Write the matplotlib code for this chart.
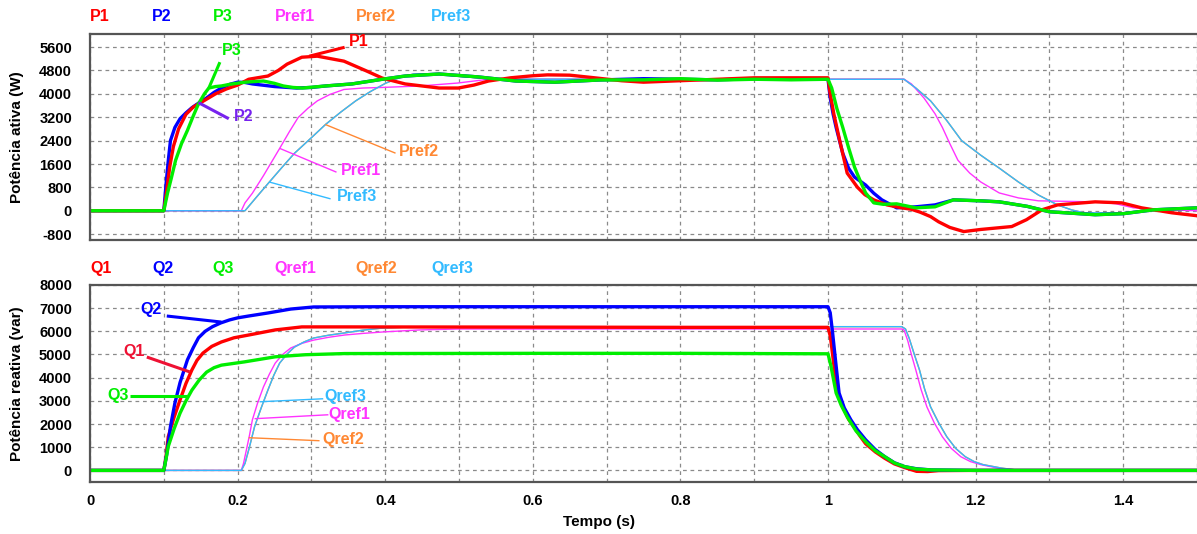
import numpy as np
import matplotlib
matplotlib.use("Agg")
import matplotlib.pyplot as plt

plt.rcParams['font.family'] = ['Liberation Sans', 'DejaVu Sans']
plt.rcParams['font.weight'] = 'bold'
plt.rcParams['axes.unicode_minus'] = False

# --- cores ---
C_1 = '#ff0000'
C_2 = '#0000ff'
C_3 = '#00ee00'
C_R1 = '#ff33ff'
C_R2 = '#ff8833'
C_R3 = '#33bbff'

# --- potencia ativa (W) ---
t_p1 = [0, 0.1, 0.104, 0.108, 0.113, 0.12, 0.13, 0.14, 0.15, 0.16, 0.17, 0.185, 0.2, 0.215,
        0.241, 0.255, 0.267, 0.287, 0.308, 0.344, 0.375, 0.396, 0.427, 0.473, 0.499, 0.52,
        0.54, 0.57, 0.6, 0.62, 0.65, 0.68, 0.72, 0.75, 0.8, 0.85, 0.9, 0.95, 1.0,
        1.003, 1.008, 1.015, 1.026, 1.04, 1.05, 1.062, 1.08, 1.1, 1.113, 1.125, 1.139, 1.15,
        1.165, 1.184, 1.207, 1.249, 1.269, 1.29, 1.311, 1.34, 1.362, 1.398, 1.425, 1.466, 1.5]
p1 = [0, 0, 700, 1500, 2200, 2800, 3300, 3550, 3700, 3850, 4000, 4170, 4300, 4500,
      4610, 4800, 5017, 5254, 5290, 5120, 4780, 4540, 4340, 4200, 4200, 4300,
      4440, 4550, 4620, 4650, 4640, 4560, 4450, 4400, 4450, 4500, 4550, 4550, 4550,
      4000, 3300, 2500, 1288, 800, 550, 373, 200, 100, 50, -50, -200, -380,
      -570, -712, -640, -540, -305, 34, 200, 260, 305, 270, 100, -70, -170]

t_p2 = [0, 0.1, 0.103, 0.106, 0.109, 0.115, 0.122, 0.13, 0.138, 0.148, 0.158, 0.168, 0.178,
        0.19, 0.2, 0.21, 0.22, 0.25, 0.28, 0.3, 0.319, 0.355, 0.396, 0.427, 0.473, 0.526,
        0.577, 0.63, 0.69, 0.75, 0.8, 0.85, 0.9, 0.95, 1.0,
        1.003, 1.007, 1.011, 1.02, 1.028, 1.036, 1.051, 1.062, 1.073, 1.093, 1.119, 1.145,
        1.17, 1.207, 1.232, 1.27, 1.30, 1.362, 1.40, 1.44, 1.5]
p2 = [0, 0, 900, 1700, 2400, 2850, 3150, 3350, 3525, 3700, 3860, 4050, 4200,
      4330, 4400, 4390, 4340, 4250, 4200, 4220, 4270, 4340, 4500, 4610, 4680, 4580,
      4440, 4400, 4475, 4520, 4500, 4480, 4520, 4500, 4500,
      3860, 3300, 2850, 1966, 1450, 1150, 880, 600, 373, 100, 135, 200,
      373, 340, 305, 150, -34, -135, -100, 30, 100]

t_p3 = [0, 0.1, 0.105, 0.11, 0.116, 0.124, 0.132, 0.14, 0.147, 0.155, 0.161, 0.17, 0.178,
        0.19, 0.21, 0.235, 0.25, 0.262, 0.275, 0.288, 0.319, 0.355, 0.396, 0.427, 0.473,
        0.526, 0.577, 0.63, 0.69, 0.75, 0.8, 0.85, 0.9, 0.95, 1.0,
        1.005, 1.012, 1.02, 1.028, 1.036, 1.044, 1.051, 1.062, 1.075, 1.093, 1.119, 1.145,
        1.17, 1.207, 1.232, 1.27, 1.30, 1.362, 1.40, 1.44, 1.5]
p3 = [0, 0, 600, 1100, 1730, 2300, 2750, 3250, 3660, 4000, 4200, 4250, 4270,
      4330, 4400, 4440, 4360, 4270, 4220, 4200, 4270, 4340, 4500, 4610, 4680,
      4580, 4440, 4400, 4475, 4480, 4520, 4470, 4500, 4480, 4500,
      4200, 3500, 2850, 2150, 1490, 1000, 610, 270, 220, 237, 100, 135,
      373, 340, 305, 150, -34, -135, -100, 30, 100]

t_pref1 = [0, 0.205, 0.21, 0.22, 0.235, 0.257, 0.27, 0.282, 0.295, 0.308, 0.325, 0.344, 0.37,
           0.396, 0.447, 0.498, 0.54, 0.7, 0.9, 1.1,
           1.103, 1.113, 1.13, 1.145, 1.155, 1.165, 1.176, 1.192, 1.207, 1.232, 1.258, 1.285,
           1.362, 1.39, 1.414, 1.465, 1.5]
pref1 = [0, 0, 270, 600, 1200, 2135, 2700, 3190, 3500, 3760, 3980, 4150, 4200,
         4220, 4270, 4370, 4500, 4500, 4500, 4500,
         4500, 4340, 3860, 3320, 2850, 2300, 1730, 1290, 985, 610, 440, 340,
         305, 240, 100, 30, 0]

t_pref3 = [0, 0.21, 0.225, 0.243, 0.26, 0.277, 0.3, 0.319, 0.34, 0.36, 0.38, 0.401, 0.42,
           0.438, 0.47, 0.5, 0.55, 0.7, 0.9, 1.1,
           1.103, 1.119, 1.139, 1.161, 1.181, 1.207, 1.232, 1.258, 1.285, 1.311, 1.33, 1.347,
           1.404, 1.44, 1.5]
pref3 = [0, 0, 450, 983, 1480, 1966, 2500, 2950, 3380, 3760, 4080, 4370, 4560,
         4680, 4680, 4600, 4500, 4500, 4500, 4500,
         4500, 4200, 3760, 3085, 2400, 1900, 1460, 985, 540, 200, 30, -70,
         -70, 30, 100]

# --- potencia reativa (var) ---
t_q1 = [0, 0.1, 0.103, 0.106, 0.114, 0.122, 0.13, 0.138, 0.145, 0.153, 0.165, 0.178, 0.195,
        0.215, 0.251, 0.287, 0.345, 0.6, 0.8, 1.0,
        1.003, 1.005, 1.01, 1.015, 1.02, 1.028, 1.035, 1.043, 1.051, 1.064, 1.077, 1.09,
        1.104, 1.12, 1.135, 1.15, 1.2, 1.5]
q1 = [0, 0, 600, 1450, 2300, 3040, 3750, 4330, 4750, 5060, 5350, 5540, 5720,
      5840, 6060, 6190, 6190, 6180, 6170, 6170,
      5800, 5320, 4000, 3200, 2740, 2200, 1900, 1500, 1150, 800, 520, 280,
      120, -40, -50, -10, 0, 0]

t_q2 = [0, 0.1, 0.104, 0.109, 0.115, 0.122, 0.132, 0.14, 0.147, 0.156, 0.166, 0.177, 0.189,
        0.2, 0.215, 0.241, 0.272, 0.303, 0.4, 0.7, 1.0,
        1.003, 1.006, 1.01, 1.015, 1.022, 1.031, 1.04, 1.051, 1.064, 1.077, 1.09, 1.104,
        1.12, 1.14, 1.2, 1.5]
q2 = [0, 0, 700, 1890, 2900, 3790, 4770, 5300, 5720, 6000, 6200, 6360, 6490,
      6580, 6660, 6790, 6960, 7050, 7060, 7060, 7060,
      6800, 6000, 4800, 3340, 2700, 2180, 1750, 1320, 900, 590, 330, 160,
      70, 20, 0, 0]

t_q3 = [0, 0.1, 0.103, 0.106, 0.114, 0.122, 0.13, 0.138, 0.148, 0.158, 0.168, 0.178, 0.209,
        0.251, 0.292, 0.345, 0.6, 0.8, 1.0,
        1.004, 1.011, 1.018, 1.026, 1.038, 1.051, 1.064, 1.077, 1.09, 1.104, 1.12, 1.14,
        1.2, 1.5]
q3 = [0, 0, 500, 1030, 1800, 2470, 3000, 3460, 3900, 4240, 4430, 4540, 4680,
      4900, 4990, 5040, 5050, 5050, 5030,
      4500, 3340, 2800, 2310, 1700, 1240, 850, 590, 320, 160, 60, 20,
      0, 0]

t_qref1 = [0, 0.205, 0.208, 0.212, 0.216, 0.22, 0.227, 0.235, 0.243, 0.251, 0.261, 0.272,
           0.287, 0.303, 0.323, 0.345, 0.37, 0.396, 0.447, 0.5, 0.9, 1.1,
           1.103, 1.108, 1.113, 1.119, 1.126, 1.134, 1.144, 1.155, 1.167, 1.18, 1.193,
           1.207, 1.23, 1.26, 1.5]
qref1 = [0, 0, 300, 900, 1500, 2180, 2900, 3600, 4150, 4630, 5000, 5280,
         5480, 5620, 5740, 5840, 5910, 5970, 6060, 6100, 6100, 6100,
         6060, 5600, 5000, 4330, 3500, 2740, 2050, 1450, 950, 590, 380,
         250, 100, 0, 0]

t_qref3 = [0, 0.205, 0.21, 0.216, 0.223, 0.232, 0.241, 0.249, 0.257, 0.267, 0.277, 0.29,
           0.303, 0.323, 0.345, 0.37, 0.396, 0.447, 0.9, 1.1,
           1.105, 1.11, 1.117, 1.124, 1.131, 1.139, 1.15, 1.161, 1.173, 1.186, 1.198,
           1.21, 1.235, 1.26, 1.5]
qref3 = [0, 0, 300, 1000, 1890, 2700, 3460, 4100, 4630, 5020, 5320, 5540,
         5710, 5830, 5930, 6050, 6140, 6200, 6200, 6200,
         6100, 5700, 5000, 4330, 3500, 2740, 2050, 1450, 950, 590, 380,
         250, 100, 0, 0]

# rótulos (texto, cor, x do texto, y do texto, x0, y0, x1, y1, espessura)
rot_p = [
    ('P1', C_1, 0.351, 5800, 0.297, 5290, 0.345, 5594, 2.2),
    ('P3', C_3, 0.178, 5490, 0.161, 4200, 0.176, 5085, 2.2),
    ('P2', '#7722ee', 0.195, 3220, 0.147, 3700, 0.188, 3150, 2.2),
    ('Pref2', C_R2, 0.419, 2035, 0.319, 2950, 0.414, 1970, 1.0),
    ('Pref1', C_R1, 0.340, 1390, 0.257, 2135, 0.334, 1320, 1.0),
    ('Pref3', C_R3, 0.335, 475, 0.243, 983, 0.326, 407, 1.0),
]
rot_q = [
    ('Q2', C_2, 0.068, 6950, 0.104, 6660, 0.178, 6400, 2.2),
    ('Q1', '#ee1133', 0.045, 5110, 0.077, 4890, 0.135, 4250, 2.2),
    ('Q3', C_3, 0.023, 3210, 0.054, 3210, 0.132, 3210, 2.2),
    ('Qref3', C_R3, 0.317, 3170, 0.230, 2960, 0.316, 3090, 1.0),
    ('Qref1', C_R1, 0.323, 2400, 0.223, 2230, 0.323, 2400, 1.0),
    ('Qref2', C_R2, 0.315, 1320, 0.215, 1410, 0.311, 1280, 1.0),
]

leg_p = ['P1', 'P2', 'P3', 'Pref1', 'Pref2', 'Pref3']
leg_q = ['Q1', 'Q2', 'Q3', 'Qref1', 'Qref2', 'Qref3']
leg_cor = [C_1, C_2, C_3, C_R1, C_R2, C_R3]
leg_x = [0.0, 0.084, 0.166, 0.25, 0.36, 0.462]

fig = plt.figure(figsize=(11.97, 5.34), dpi=100)
ax1 = fig.add_axes([0.0752, 0.5506, 0.9248, 0.3858])
ax2 = fig.add_axes([0.0752, 0.0974, 0.9248, 0.3690])


def estilo(ax, yticks, ylim):
    ax.set_xlim(0, 1.5)
    ax.set_ylim(*ylim)
    ax.set_yticks(yticks)
    ax.set_xticks(np.arange(0, 1.51, 0.1), minor=True)
    ax.set_xticks([0, 0.2, 0.4, 0.6, 0.8, 1.0, 1.2, 1.4])
    ax.grid(True, which='both', color='#8a8a8a', linestyle=(0, (3, 3)), linewidth=0.9)
    for s in ax.spines.values():
        s.set_color('#555555')
        s.set_linewidth(1.6)
    ax.spines['right'].set_visible(False)
    ax.tick_params(axis='both', which='both', length=0, labelsize=10.5)
    ax.tick_params(axis='y', pad=13)
    ax.tick_params(axis='x', pad=9)


estilo(ax1, np.arange(-800, 5601, 800), (-1000, 6050))
ax1.set_xticklabels([])
ax1.set_ylabel('Potência ativa (W)', fontsize=11, fontweight='bold')
ax1.yaxis.set_label_coords(-0.0596, 0.5)

ax1.plot(t_pref3, pref3, color=C_R2, lw=1.0)
ax1.plot(t_pref1, pref1, color=C_R1, lw=1.0)
ax1.plot(t_pref3, pref3, color=C_R3, lw=1.0)
ax1.plot(t_p2, p2, color=C_2, lw=2.4)
ax1.plot(t_p1, p1, color=C_1, lw=2.4)
ax1.plot(t_p3, p3, color=C_3, lw=2.4)

estilo(ax2, np.arange(0, 8001, 1000), (-500, 8000))
ax2.set_xticklabels(['0', '0.2', '0.4', '0.6', '0.8', '1', '1.2', '1.4'])
ax2.set_ylabel('Potência reativa (var)', fontsize=11, fontweight='bold')
ax2.yaxis.set_label_coords(-0.0596, 0.5)
ax2.set_xlabel('Tempo (s)', fontsize=11, fontweight='bold')
ax2.xaxis.set_label_coords(0.46, -0.165)

ax2.plot(t_qref3, qref3, color=C_R2, lw=1.0)
ax2.plot(t_qref1, qref1, color=C_R1, lw=1.0)
ax2.plot(t_qref3, qref3, color=C_R3, lw=1.0)
ax2.plot(t_q1, q1, color=C_1, lw=2.4)
ax2.plot(t_q2, q2, color=C_2, lw=2.4)
ax2.plot(t_q3, q3, color=C_3, lw=2.4)

# rótulos com linha de chamada
for ax, rot in ((ax1, rot_p), (ax2, rot_q)):
    for txt, cor, xt, yt, x0, y0, x1, y1, lw in rot:
        ax.plot([x0, x1], [y0, y1], color=cor, lw=lw, solid_capstyle='butt')
        ax.text(xt, yt, txt, color=cor, fontsize=11.5, fontweight='bold',
                ha='left', va='center')

# nomes dos sinais acima de cada grafico
for ax, nomes in ((ax1, leg_p), (ax2, leg_q)):
    for nome, cor, xl in zip(nomes, leg_cor, leg_x):
        ax.text(xl, 1.085, nome, color=cor, fontsize=11.5, fontweight='bold',
                ha='left', va='center', transform=ax.get_xaxis_transform())

fig.savefig('out.png', dpi=100)
